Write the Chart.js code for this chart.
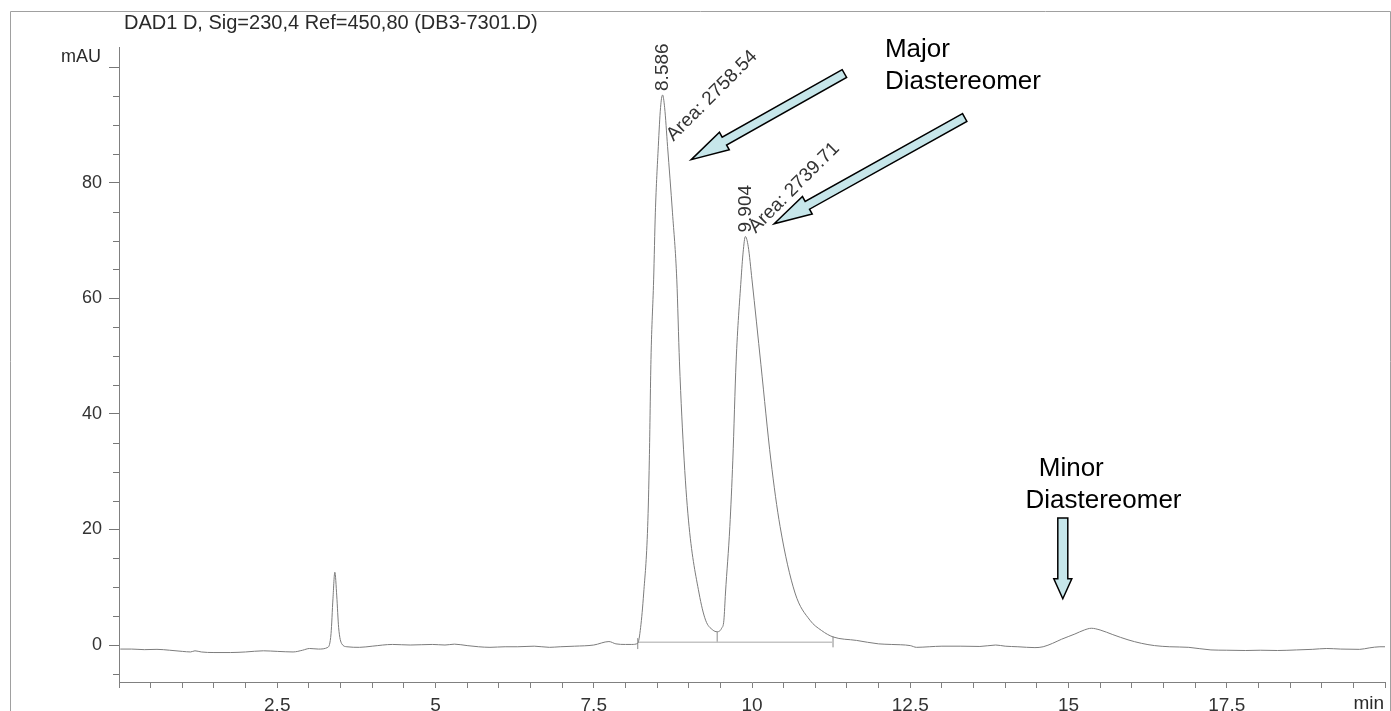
<!DOCTYPE html>
<html>
<head>
<meta charset="utf-8">
<script src="https://cdn.jsdelivr.net/npm/chart.js@4"></script>
<style>
  body { margin: 0; background: #fff; }
  canvas { display: block; }
</style>
</head>
<body>
<canvas id="chrom" width="1391" height="711"></canvas>
<script>
// retention time (min) and signal (mAU)
const times = [
  0.02, 0.2, 0.4, 0.6, 0.8, 1.0, 1.13, 1.2, 1.3, 1.5, 1.76, 2.0, 2.28, 2.5, 2.75, 2.9,
  3.01, 3.15, 3.3, 3.35, 3.38, 3.41, 3.44, 3.47, 3.52, 3.6, 3.8, 4.0, 4.32, 4.6, 4.95,
  5.15, 5.3, 5.5, 5.68, 5.86, 6.1, 6.3, 6.56, 6.8, 6.97, 7.2, 7.5, 7.74, 7.85, 8.0, 8.1,
  8.195, 8.24, 8.289, 8.352, 8.378, 8.404, 8.446, 8.473, 8.52, 8.555, 8.587, 8.62, 8.666,
  8.744, 8.812, 8.854, 8.928, 9.006, 9.163, 9.267, 9.38, 9.45, 9.52, 9.556, 9.581, 9.65,
  9.697, 9.749, 9.827, 9.86, 9.895, 9.94, 10.0, 10.141, 10.298, 10.444, 10.68, 10.915,
  11.1, 11.28, 11.65, 12.0, 12.2, 12.5, 12.6, 12.8, 13.0, 13.3, 13.6, 13.85, 14.0, 14.2,
  14.47, 14.6, 14.75, 14.89, 15.1, 15.25, 15.36, 15.5, 15.7, 15.94, 16.15, 16.36, 16.6,
  16.9, 17.25, 17.5, 17.8, 18.03, 18.3, 18.6, 18.85, 19.08, 19.3, 19.6, 19.75, 19.92, 20.0
];
const signal = [
  -0.7, -0.7, -0.8, -0.75, -0.9, -1.1, -1.2, -1.0, -1.2, -1.3, -1.3, -1.2, -1.0, -1.1, -1.2, -0.9,
  -0.6, -0.7, -0.4, 2.0, 8.0, 12.6, 8.5, 3.0, 0.2, -0.3, -0.4, -0.2, 0.1, 0.0, 0.1,
  0.0, 0.15, -0.1, -0.3, -0.4, -0.3, -0.3, -0.2, -0.4, -0.3, -0.2, 0.0, 0.6, 0.2, 0.1, 0.1,
  0.3, 3.0, 9, 20.5, 32, 49.4, 63.2, 74.8, 86.3, 93, 95.2, 93, 86.3,
  74.8, 63.2, 49, 32, 20.5, 9, 4.3, 2.6, 2.3, 2.9, 4.3, 9, 20.5,
  32, 49, 63.2, 68, 70.7, 69, 63.2, 48.5, 32, 20.5, 9, 4.3,
  2.5, 1.4, 0.8, 0.2, 0.1, -0.1, -0.4, -0.3, -0.2, -0.2, -0.25, 0.0, -0.2, -0.3,
  -0.45, -0.3, 0.3, 1.0, 1.9, 2.6, 2.9, 2.6, 1.8, 0.9, 0.3, -0.1, -0.3,
  -0.4, -0.85, -0.9, -0.95, -0.9, -0.95, -0.85, -0.75, -0.6, -0.7, -0.75, -0.5, -0.3, -0.3
];

// integration marks
const baseStart = 8.195;
const baseEnd = 11.28;
const baseLevel = 0.5;
const dropTime = 9.45;
const dropTop = 2.3;

// peak annotations
const peakTimes = [8.586, 9.904];
const peakApex = [95.2, 70.7];
const peakNames = ['8.586', '9.904'];
const areaNames = ['Area: 2758.54', 'Area: 2739.71'];

const xTickLabels = ['2.5', '5', '7.5', '10', '12.5', '15', '17.5'];
const yTickLabels = [0, 20, 40, 60, 80];

// where the added notes sit, in (min, mAU)
const notes = {
  areaAt: [[8.76, 87.1], [10.06, 71.2]],
  arrows: [
    { from: [11.46, 98.9], to: [9.04, 84.0], shaft: 4.5, head: 10, len: 38 },
    { from: [13.36, 91.3], to: [10.35, 72.9], shaft: 4.5, head: 10, len: 38 },
    { from: [14.91, 22.0], to: [14.91, 8.0], shaft: 5, head: 9, len: 20 }
  ],
  major: { at: [12.10, 101.8], lines: ['Major', 'Diastereomer'] },
  minor: [[14.53, 29.3, 'Minor'], [14.32, 23.7, 'Diastereomer']]
};

const FONT = '"Liberation Sans", Arial, sans-serif';

function arrow(ctx, x0, y0, x1, y1, w, hw, hl) {
  const dx = x1 - x0, dy = y1 - y0;
  const d = Math.hypot(dx, dy);
  const ux = dx / d, uy = dy / d;
  const nx = -uy, ny = ux;
  const bx = x1 - ux * hl, by = y1 - uy * hl;
  ctx.beginPath();
  ctx.moveTo(x0 + nx * w, y0 + ny * w);
  ctx.lineTo(bx + nx * w, by + ny * w);
  ctx.lineTo(bx + nx * hw, by + ny * hw);
  ctx.lineTo(x1, y1);
  ctx.lineTo(bx - nx * hw, by - ny * hw);
  ctx.lineTo(bx - nx * w, by - ny * w);
  ctx.lineTo(x0 - nx * w, y0 - ny * w);
  ctx.closePath();
  ctx.fillStyle = '#c6e6ea';
  ctx.fill();
  ctx.lineWidth = 1.5;
  ctx.strokeStyle = '#000';
  ctx.stroke();
}

const decor = {
  id: 'decor',
  afterDraw(chart) {
    const ctx = chart.ctx;
    const xs = chart.scales.x, ys = chart.scales.y;
    const area = chart.chartArea;
    const px = t => xs.getPixelForValue(t);
    const py = v => ys.getPixelForValue(v);
    ctx.save();

    // outer frame
    ctx.strokeStyle = '#a0a0a0';
    ctx.lineWidth = 1;
    ctx.beginPath();
    ctx.moveTo(10.5, 711);
    ctx.lineTo(10.5, 11.5);
    ctx.lineTo(1390.5, 11.5);
    ctx.lineTo(1390.5, 711);
    ctx.stroke();

    // minor y ticks
    ctx.strokeStyle = '#777';
    ys.ticks.forEach(tk => {
      if (tk.value % 20 !== 0) {
        const y = Math.round(py(tk.value)) + 0.5;
        ctx.beginPath();
        ctx.moveTo(area.left - 6, y);
        ctx.lineTo(area.left, y);
        ctx.stroke();
      }
    });

    ctx.fillStyle = '#2a2a2a';
    ctx.textBaseline = 'alphabetic';
    ctx.textAlign = 'left';
    ctx.font = '20px ' + FONT;
    ctx.fillText('DAD1 D, Sig=230,4 Ref=450,80 (DB3-7301.D)', 124, 29);

    ctx.textAlign = 'right';
    ctx.font = '18px ' + FONT;
    ctx.fillText('mAU', 101, 62);

    ctx.textBaseline = 'top';
    ctx.font = '19px ' + FONT;
    ctx.fillText('min', area.right - 1, area.bottom + 12);

    // peak retention times and areas
    ctx.fillStyle = '#333';
    peakTimes.forEach((t, i) => {
      ctx.save();
      ctx.translate(px(t), py(peakApex[i]) - 4);
      ctx.rotate(-Math.PI / 2);
      ctx.textAlign = 'left';
      ctx.textBaseline = 'middle';
      ctx.font = '19px ' + FONT;
      ctx.fillText(peakNames[i], 0, 0);
      ctx.restore();

      const a = notes.areaAt[i];
      ctx.save();
      ctx.translate(px(a[0]), py(a[1]));
      ctx.rotate(-Math.PI / 4);
      ctx.textAlign = 'left';
      ctx.textBaseline = 'alphabetic';
      ctx.font = '19px ' + FONT;
      ctx.fillText(areaNames[i], 0, 0);
      ctx.restore();
    });

    notes.arrows.forEach(a => {
      arrow(ctx, px(a.from[0]), py(a.from[1]), px(a.to[0]), py(a.to[1]), a.shaft, a.head, a.len);
    });

    ctx.fillStyle = '#000';
    ctx.textAlign = 'left';
    ctx.textBaseline = 'alphabetic';
    ctx.font = '26px ' + FONT;
    const mj = notes.major;
    mj.lines.forEach((s, i) => ctx.fillText(s, px(mj.at[0]), py(mj.at[1]) + i * 32));
    notes.minor.forEach(m => ctx.fillText(m[2], px(m[0]), py(m[1])));

    ctx.restore();
  }
};

new Chart(document.getElementById('chrom'), {
  type: 'line',
  data: {
    datasets: [
      {
        data: times.map((t, i) => ({ x: t, y: signal[i] })),
        borderColor: '#7c7c7c',
        borderWidth: 1,
        cubicInterpolationMode: 'monotone',
        pointRadius: 0
      },
      {
        data: [{ x: baseStart, y: baseLevel }, { x: baseEnd, y: baseLevel }],
        borderColor: '#c4c4c4',
        borderWidth: 1.5,
        pointRadius: 0
      },
      {
        data: [
          { x: dropTime, y: baseLevel }, { x: dropTime, y: dropTop }, { x: dropTime, y: null },
          { x: baseStart, y: -0.7 }, { x: baseStart, y: 1.2 }, { x: baseStart, y: null },
          { x: baseEnd, y: -0.4 }, { x: baseEnd, y: 1.5 }
        ],
        borderColor: '#8a8a8a',
        borderWidth: 1,
        spanGaps: false,
        pointRadius: 0
      }
    ]
  },
  options: {
    responsive: false,
    animation: false,
    devicePixelRatio: 1,
    layout: { padding: { top: 47, right: 0, left: 0, bottom: 0 } },
    plugins: { legend: { display: false }, tooltip: { enabled: false }, title: { display: false } },
    scales: {
      x: {
        type: 'linear',
        min: 0,
        max: 20,
        afterFit: s => { s.height = 29; },
        border: { display: true, color: '#808080' },
        grid: { drawOnChartArea: false, drawTicks: true, tickLength: 6, color: '#808080' },
        ticks: {
          stepSize: 0.5,
          autoSkip: false,
          maxRotation: 0,
          minRotation: 0,
          padding: 6,
          color: '#333',
          font: { family: FONT, size: 19 },
          callback: v => {
            const s = String(Math.round(v * 10) / 10);
            return xTickLabels.includes(s) ? s : '';
          }
        }
      },
      y: {
        min: -6.4,
        max: 103.5,
        afterFit: s => { s.width = 119; },
        border: { display: true, color: '#808080' },
        grid: {
          drawOnChartArea: false,
          drawTicks: true,
          tickLength: 10,
          tickColor: c => (c.tick && c.tick.value % 20 === 0) ? '#777' : 'rgba(0,0,0,0)'
        },
        ticks: {
          stepSize: 5,
          includeBounds: false,
          autoSkip: false,
          padding: 7,
          color: '#333',
          font: { family: FONT, size: 18 },
          callback: v => yTickLabels.includes(v) ? String(v) : ''
        }
      }
    }
  },
  plugins: [decor]
});
</script>
</body>
</html>
